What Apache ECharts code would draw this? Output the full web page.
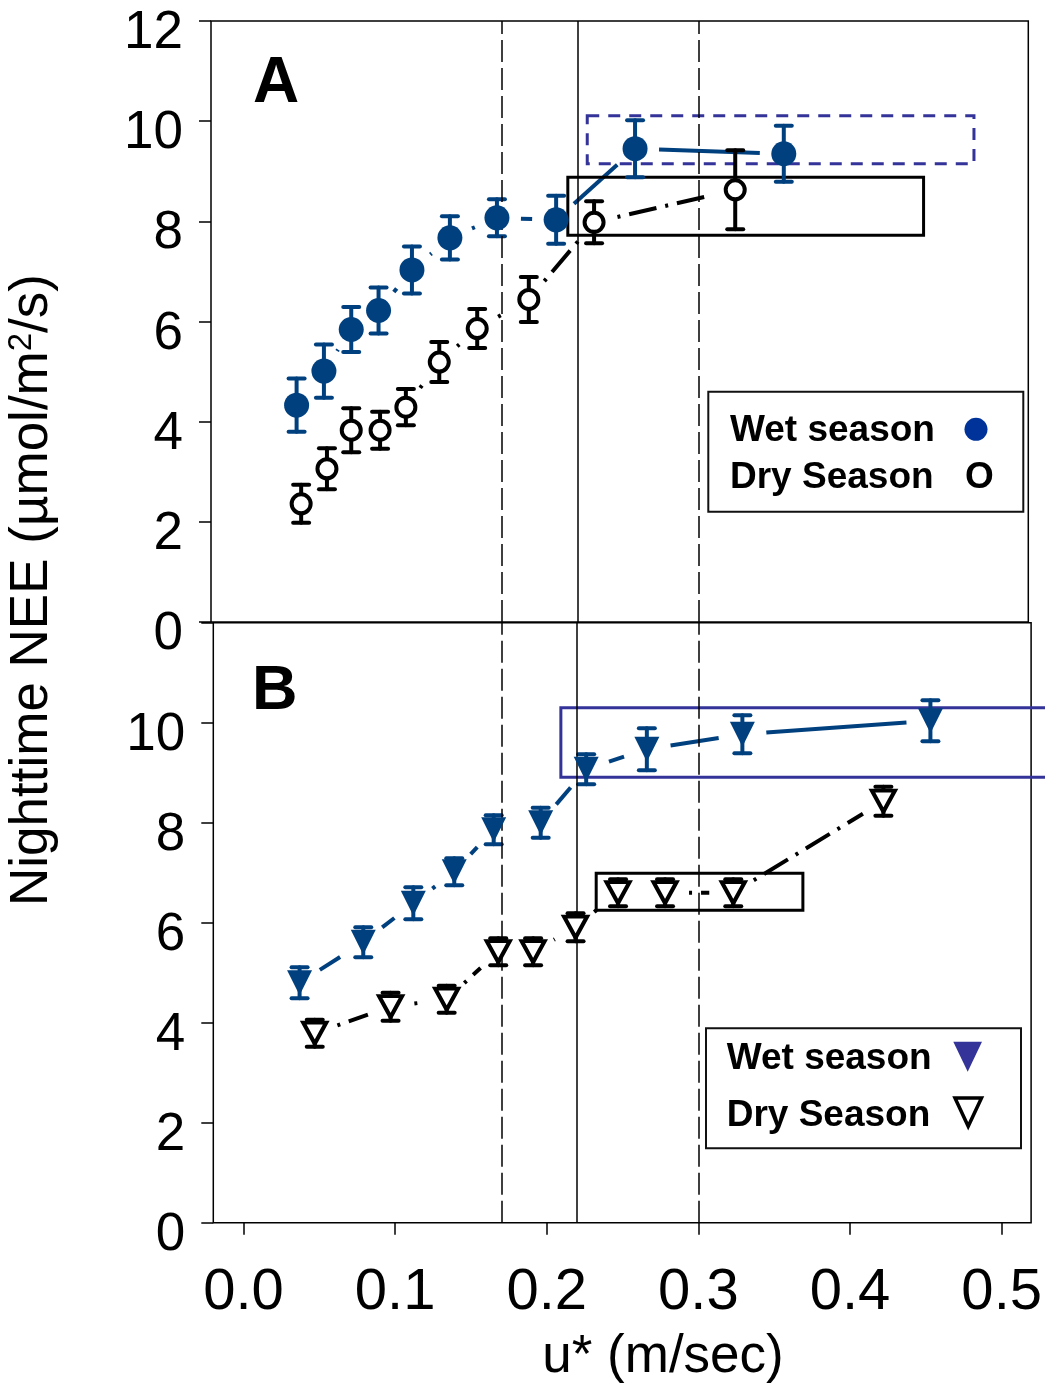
<!DOCTYPE html>
<html>
<head>
<meta charset="utf-8">
<script src="https://cdn.jsdelivr.net/npm/echarts@6/dist/echarts.min.js"></script>
<style>
  html, body { margin: 0; padding: 0; background: #fff; }
  #chart { width: 1045px; height: 1383px; }
</style>
</head>
<body>
<div id="chart"></div>
<script>
// panel A : circles
const xA_wet = [0.035, 0.053, 0.071, 0.089, 0.111, 0.136, 0.167, 0.206, 0.258, 0.356];
const yA_wet = [4.33, 5.01, 5.84, 6.22, 7.03, 7.67, 8.07, 8.03, 9.45, 9.35];
const eA_wet = [0.53, 0.53, 0.45, 0.46, 0.47, 0.43, 0.37, 0.48, 0.57, 0.56];

const xA_dry = [0.038, 0.055, 0.071, 0.090, 0.107, 0.129, 0.154, 0.188, 0.231, 0.324];
const yA_dry = [2.36, 3.06, 3.83, 3.83, 4.29, 5.19, 5.86, 6.44, 7.98, 8.63];
const eA_dry = [0.38, 0.41, 0.44, 0.37, 0.36, 0.40, 0.39, 0.45, 0.42, 0.79];

// panel B : triangles
const xB_wet = [0.037, 0.079, 0.112, 0.139, 0.165, 0.196, 0.226, 0.266, 0.329, 0.453];
const yB_wet = [4.80, 5.61, 6.39, 7.02, 7.86, 8.00, 9.07, 9.47, 9.77, 10.04];
const eB_wet = [0.31, 0.30, 0.32, 0.27, 0.29, 0.30, 0.30, 0.42, 0.38, 0.41];

const xB_dry = [0.047, 0.097, 0.134, 0.168, 0.191, 0.219, 0.247, 0.278, 0.323, 0.422];
const yB_dry = [3.79, 4.32, 4.47, 5.42, 5.42, 5.91, 6.60, 6.60, 6.60, 8.43];
const eB_dry = [0.27, 0.28, 0.27, 0.27, 0.27, 0.28, 0.27, 0.27, 0.27, 0.29];

// u* thresholds (vertical lines)
const uDashed = [0.17, 0.30];
const uSolid = [0.22];

// highlight boxes [x0, y0, x1, y1]
const boxA_wet = [0.2265, 9.15, 0.4813, 10.11];
const boxA_dry = [0.2137, 7.72, 0.4481, 8.88];
const boxB_wet = [0.2093, 8.91, 0.5298, 10.30];
const boxB_dry = [0.2326, 6.25, 0.3689, 6.99];

const xTicks = [0, 0.1, 0.2, 0.3, 0.4, 0.5];

const FONT = "'Liberation Sans', Arial, sans-serif";
const BLUE = '#00407F';
const PURPLE = '#333399';
const GAP = 24; // sigmaplot-style gap between line and symbol

function pts(xs, ys) {
  return xs.map((x, i) => [x, ys[i]]);
}
// consecutive pairs from index `from` to `to`
function segs(xs, ys, from, to) {
  let out = [];
  for (let i = from; i < to; i++) out.push([xs[i], ys[i], xs[i + 1], ys[i + 1]]);
  return out;
}
function errData(xs, ys, es) {
  return xs.map((x, i) => [x, ys[i], es[i]]);
}
function errRender(color) {
  return function (params, api) {
    let x = api.value(0), y = api.value(1), e = api.value(2);
    let lo = api.coord([x, y - e]), hi = api.coord([x, y + e]);
    let st = { stroke: color, lineWidth: 4, lineCap: 'round' };
    return {
      type: 'group',
      children: [
        { type: 'line', shape: { x1: lo[0], y1: lo[1], x2: hi[0], y2: hi[1] }, style: st },
        { type: 'line', shape: { x1: lo[0] - 8, y1: lo[1], x2: lo[0] + 8, y2: lo[1] }, style: st },
        { type: 'line', shape: { x1: hi[0] - 8, y1: hi[1], x2: hi[0] + 8, y2: hi[1] }, style: st }
      ]
    };
  };
}
function segRender(color, dash) {
  return function (params, api) {
    let a = api.coord([api.value(0), api.value(1)]);
    let b = api.coord([api.value(2), api.value(3)]);
    let dx = b[0] - a[0], dy = b[1] - a[1];
    let len = Math.sqrt(dx * dx + dy * dy);
    if (len <= 2 * GAP) return null;
    let ux = dx / len, uy = dy / len;
    return {
      type: 'line',
      shape: { x1: a[0] + ux * GAP, y1: a[1] + uy * GAP, x2: b[0] - ux * GAP, y2: b[1] - uy * GAP },
      style: { stroke: color, lineWidth: 4, lineDash: dash, lineCap: 'butt' }
    };
  };
}
function boxRender(color, width, dash) {
  return function (params, api) {
    let p0 = api.coord([api.value(0), api.value(1)]);
    let p1 = api.coord([api.value(2), api.value(3)]);
    return {
      type: 'rect',
      shape: { x: Math.min(p0[0], p1[0]), y: Math.min(p0[1], p1[1]),
               width: Math.abs(p1[0] - p0[0]), height: Math.abs(p1[1] - p0[1]) },
      style: { fill: 'none', stroke: color, lineWidth: width, lineDash: dash }
    };
  };
}
function vlines() {
  let d = [];
  uDashed.forEach(u => d.push({ xAxis: u, lineStyle: { type: [22, 6] } }));
  uSolid.forEach(u => d.push({ xAxis: u, lineStyle: { type: 'solid' } }));
  return {
    silent: true, symbol: ['none', 'none'], label: { show: false },
    lineStyle: { color: '#000', width: 1.5 }, data: d
  };
}

function panelSeries(k, xw, yw, ew, xd, yd, ed, wetSym, drySym, boxW, boxD, boxWStyle, wetDash) {
  const ax = { xAxisIndex: k, yAxisIndex: k };
  return [
    Object.assign({ type: 'custom', data: segs(xw, yw, 0, 7), renderItem: segRender(BLUE, wetDash), z: 2,
      markLine: vlines() }, ax),
    Object.assign({ type: 'custom', data: segs(xw, yw, 7, 9), renderItem: segRender(BLUE, null), z: 2 }, ax),
    Object.assign({ type: 'custom', data: segs(xd, yd, 0, 9), renderItem: segRender('#000', [3, 9, 28, 9]), z: 2 }, ax),
    Object.assign({ type: 'custom', data: [boxW], renderItem: boxRender(PURPLE, 3, boxWStyle), z: 3 }, ax),
    Object.assign({ type: 'custom', data: [boxD], renderItem: boxRender('#000', 3, null), z: 3 }, ax),
    Object.assign({ type: 'custom', data: errData(xw, yw, ew), renderItem: errRender(BLUE), z: 4 }, ax),
    Object.assign({ type: 'custom', data: errData(xd, yd, ed), renderItem: errRender('#000'), z: 4 }, ax),
    Object.assign({ type: 'scatter', data: pts(xw, yw), z: 5, itemStyle: { color: BLUE, opacity: 1 } }, wetSym, ax),
    Object.assign({ type: 'scatter', data: pts(xd, yd), z: 5,
      itemStyle: { color: '#fff', borderColor: '#000', borderWidth: 4, opacity: 1 } }, drySym, ax)
  ];
}

const yLabel = {
  fontSize: 53, fontFamily: FONT, color: '#000', margin: 28, verticalAlign: 'top', lineHeight: 25
};

let option = {
  animation: false,
  backgroundColor: '#fff',
  grid: [
    { left: 211, top: 21, width: 817.3, height: 601, show: true, borderColor: '#000', borderWidth: 1.5 },
    { left: 213.3, top: 622.7, width: 818.4, height: 600, show: true, borderColor: '#000', borderWidth: 1.5 }
  ],
  xAxis: [
    { type: 'value', gridIndex: 0, min: -0.0214, max: 0.5171, axisLine: { show: false, onZero: false },
      axisTick: { show: false }, axisLabel: { show: false }, splitLine: { show: false } },
    { type: 'value', gridIndex: 1, min: -0.0199, max: 0.5194, axisLine: { show: false, onZero: false },
      axisTick: { show: true, length: 12, customValues: xTicks, lineStyle: { color: '#000', width: 1.5 } },
      axisLabel: { show: true, customValues: xTicks, formatter: v => v.toFixed(1),
        fontSize: 58, fontFamily: FONT, color: '#000', margin: 41 },
      splitLine: { show: false } }
  ],
  yAxis: [
    { type: 'value', gridIndex: 0, min: 0, max: 12, interval: 2, axisLine: { show: false, onZero: false },
      axisTick: { show: true, length: 12, lineStyle: { color: '#000', width: 1.5 } },
      axisLabel: yLabel, splitLine: { show: false } },
    { type: 'value', gridIndex: 1, min: 0, max: 12, interval: 2, axisLine: { show: false, onZero: false },
      axisTick: { show: true, length: 12, lineStyle: { color: '#000', width: 1.5 } },
      axisLabel: Object.assign({}, yLabel, { formatter: v => (v === 12 ? '' : String(v)) }),
      splitLine: { show: false } }
  ],
  series: [].concat(
    panelSeries(0, xA_wet, yA_wet, eA_wet, xA_dry, yA_dry, eA_dry,
      { symbol: 'circle', symbolSize: 25 }, { symbol: 'circle', symbolSize: 19 },
      boxA_wet, boxA_dry, [12, 9], [12, 6, 3, 6]),
    panelSeries(1, xB_wet, yB_wet, eB_wet, xB_dry, yB_dry, eB_dry,
      { symbol: 'triangle', symbolRotate: 180, symbolSize: [25, 25] },
      { symbol: 'triangle', symbolRotate: 180, symbolSize: [23, 21] },
      boxB_wet, boxB_dry, null, [24, 14])
  ),
  graphic: [
    { type: 'text', x: 253, y: 84, style: { text: 'A', font: 'bold 64px ' + FONT, fill: '#000',
      textAlign: 'left', textVerticalAlign: 'middle' } },
    { type: 'text', x: 252, y: 692, style: { text: 'B', font: 'bold 63px ' + FONT, fill: '#000',
      textAlign: 'left', textVerticalAlign: 'middle' } },
    // axis titles
    { type: 'text', x: 32, y: 590, rotation: Math.PI / 2,
      style: { text: 'Nighttime NEE (µmol/m{sup|2}/s)', font: '53px ' + FONT, fill: '#000',
        textAlign: 'center', textVerticalAlign: 'middle',
        rich: { sup: { fontSize: 33, fontFamily: FONT, verticalAlign: 'top', fill: '#000' } } } },
    { type: 'text', x: 663, y: 1357,
      style: { text: 'u* (m/sec)', font: '53px ' + FONT, fill: '#000', textAlign: 'center', textVerticalAlign: 'middle' } },
    // legend A
    { type: 'rect', shape: { x: 708.3, y: 391.7, width: 315, height: 120 }, style: { fill: '#fff', stroke: '#111', lineWidth: 2 }, z: 10 },
    { type: 'text', x: 730, y: 431, z: 11, style: { text: 'Wet season', font: 'bold 37px ' + FONT, fill: '#000', textVerticalAlign: 'middle' } },
    { type: 'text', x: 730, y: 477.5, z: 11, style: { text: 'Dry Season', font: 'bold 37px ' + FONT, fill: '#000', textVerticalAlign: 'middle' } },
    { type: 'circle', shape: { cx: 976, cy: 429.3, r: 11.5 }, style: { fill: '#003399' }, z: 11 },
    { type: 'text', x: 965, y: 477.5, z: 11, style: { text: 'O', font: 'bold 37px ' + FONT, fill: '#000', textVerticalAlign: 'middle' } },
    // legend B
    { type: 'rect', shape: { x: 706, y: 1028.3, width: 315, height: 120 }, style: { fill: '#fff', stroke: '#111', lineWidth: 2 }, z: 10 },
    { type: 'text', x: 726.7, y: 1059, z: 11, style: { text: 'Wet season', font: 'bold 37px ' + FONT, fill: '#000', textVerticalAlign: 'middle' } },
    { type: 'text', x: 726.7, y: 1115.5, z: 11, style: { text: 'Dry Season', font: 'bold 37px ' + FONT, fill: '#000', textVerticalAlign: 'middle' } },
    { type: 'polygon', shape: { points: [[953.3, 1041.7], [982, 1041.7], [967.7, 1071.7]] }, style: { fill: PURPLE }, z: 11 },
    { type: 'polygon', shape: { points: [[955, 1098], [981.5, 1098], [968.2, 1126.3]] },
      style: { fill: '#fff', stroke: '#000', lineWidth: 3.5, lineJoin: 'miter' }, z: 11 }
  ]
};

let chart = echarts.init(document.getElementById('chart'), null, { renderer: 'canvas' });
chart.setOption(option);
</script>
</body>
</html>
